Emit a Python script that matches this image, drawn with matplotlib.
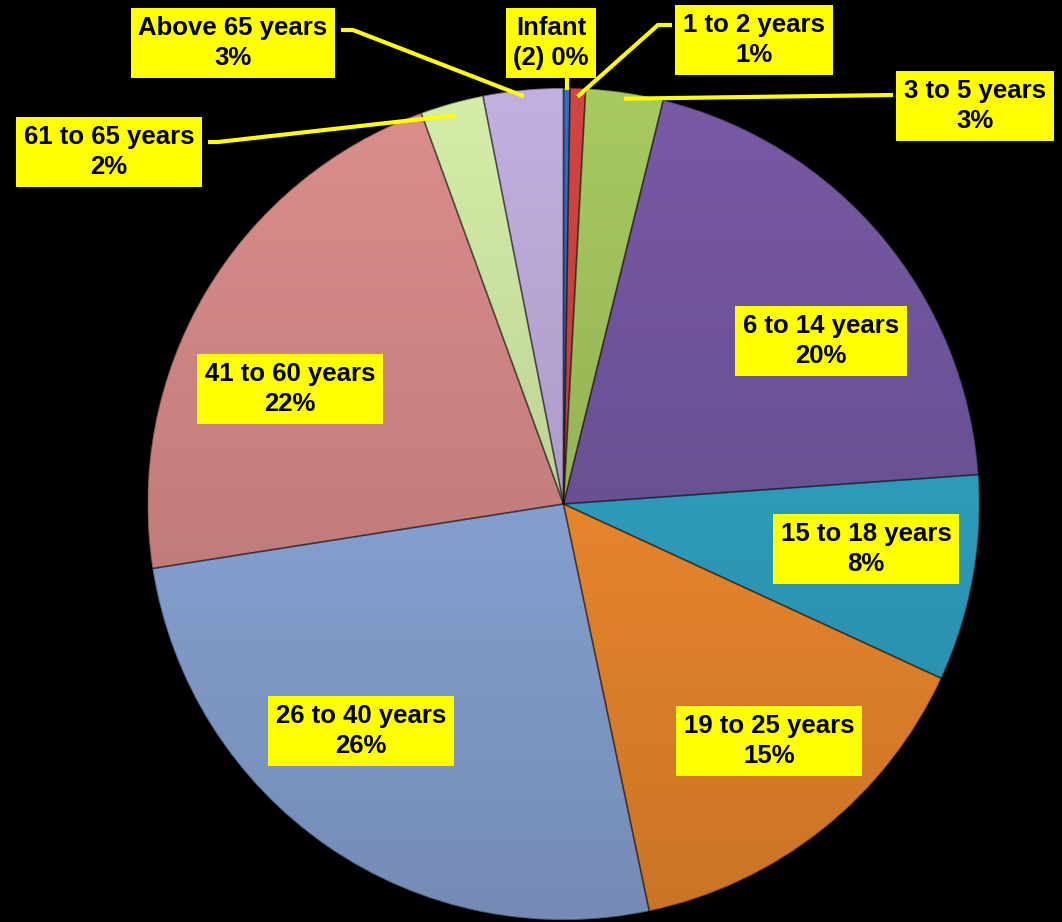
import numpy as np
import matplotlib
matplotlib.use("Agg")
import matplotlib.pyplot as plt
from matplotlib.colors import to_rgb
from matplotlib.patches import Wedge

# ---- data ----
categories = ["Infant", "1 to 2 years", "3 to 5 years", "6 to 14 years",
              "15 to 18 years", "19 to 25 years", "26 to 40 years",
              "41 to 60 years", "61 to 65 years", "Above 65 years"]
label_names = ["Infant\n(2)", "1 to 2 years", "3 to 5 years", "6 to 14 years",
               "15 to 18 years", "19 to 25 years", "26 to 40 years",
               "41 to 60 years", "61 to 65 years", "Above 65 years"]
label_seps = [" ", "\n", "\n", "\n", "\n", "\n", "\n", "\n", "\n", "\n"]
shares = [0.25, 0.6, 3.0, 20.0, 8.0, 14.8, 25.8, 21.9, 2.45, 3.1]

# ---- styling / layout ----
colors = ["#2f66ad", "#c3403d", "#9bbb59", "#6f5399", "#30a0c1", "#f08a2e",
          "#8aa6d8", "#cc8482", "#c6dc9c", "#b4a3d0"]
W, H = 1062, 922
cx, cy, R = 563.5, H - 504, 416
# label box centers (image px) and leader-line anchors
label_pos = [(551, 43), (754, 40), (975, 106), (821, 341), (866, 549),
             (769, 741), (361, 731), (290, 389), (109, 152), (233, 43)]
leaders = {
    0: [(None, 77)],
    1: [(672, 25), (658, 25)],
    2: [(893, 95)],
    8: [(208, 142), (218, 142)],
    9: [(341, 30), (353, 30)],
}
leader_r = {0: 0.995, 1: 0.98, 2: 0.985, 8: 0.97, 9: 0.985}

fig = plt.figure(figsize=(W / 100, H / 100), dpi=100, facecolor="black")
ax = fig.add_axes([0, 0, 1, 1])
ax.set_facecolor("black")

wedges, _ = ax.pie(shares, colors=colors, startangle=90, counterclock=False,
                   center=(cx, cy), radius=R,
                   wedgeprops=dict(linewidth=1.0, edgecolor="#00000066"))

# vertical lighting gradient clipped to each wedge
ny = 200
shade = np.linspace(0.84, 1.08, ny)[:, None]
for w, c in zip(wedges, colors):
    rgb = np.array(to_rgb(c))
    img = np.clip(shade[:, :, None] * rgb[None, None, :], 0, 1)
    im = ax.imshow(img, extent=(cx - R, cx + R, cy - R, cy + R),
                   origin="lower", aspect="auto", zorder=1.5,
                   interpolation="bilinear")
    im.set_clip_path(w)
    w.set_zorder(1)
    ax.add_patch(Wedge(w.center, w.r, w.theta1, w.theta2, fill=False,
                       edgecolor=(0, 0, 0, 0.35), linewidth=1.2, zorder=1.6))

ax.set_xlim(0, W)
ax.set_ylim(0, H)
ax.set_aspect("equal")
ax.axis("off")

total = sum(shares)
for i, (name, sep, v) in enumerate(zip(label_names, label_seps, shares)):
    pct = int(round(v / total * 100))
    txt = f"{name}{sep}{pct}%"
    x, y = label_pos[i]
    ax.text(x, H - y, txt, ha="center", va="center", fontsize=18.5,
            fontweight="bold", family=["Liberation Sans", "DejaVu Sans"],
            color="black", linespacing=1.35, zorder=5,
            bbox=dict(boxstyle="square,pad=0.3", facecolor="#ffff00",
                      edgecolor="none"))

# leader lines
for i, pts in leaders.items():
    w = wedges[i]
    mid = np.deg2rad((w.theta1 + w.theta2) / 2)
    r = R * leader_r[i]
    ex, ey = cx + r * np.cos(mid), cy + r * np.sin(mid)
    xs, ys = [], []
    for (px, py) in pts:
        xs.append(ex if px is None else px)
        ys.append(H - py)
    xs.append(ex)
    ys.append(ey)
    ax.plot(xs, ys, color="#ffff00", linewidth=3, zorder=4,
            solid_capstyle="butt")

fig.savefig("out.png", dpi=100, facecolor="black")
